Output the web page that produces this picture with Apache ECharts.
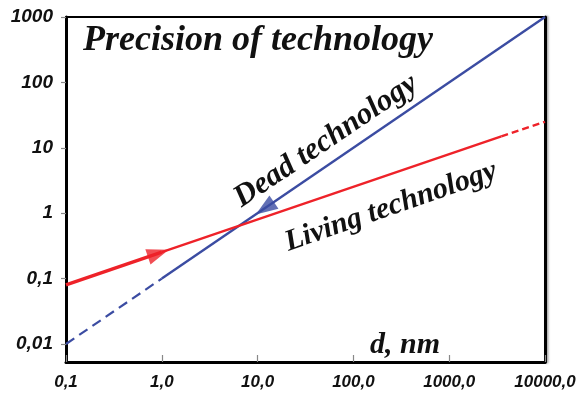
<!DOCTYPE html>
<html>
<head>
<meta charset="utf-8">
<script src="https://cdn.jsdelivr.net/npm/echarts@6/dist/echarts.min.js"></script>
<style>html,body{margin:0;padding:0;background:#fff}#c{width:584px;height:396px}</style>
</head>
<body>
<div id="c"></div>
<script>
// Tick labels
const xTickLabels = ['0,1', '1,0', '10,0', '100,0', '1000,0', '10000,0'];
const xTickValues = [0.1, 1, 10, 100, 1000, 10000];
const yTickLabels = ['0,01', '0,1', '1', '10', '100', '1000'];
const yTickValues = [0.01, 0.1, 1, 10, 100, 1000];

// Dead technology (blue): dashed part and solid part
const deadDashed = [[0.1, 0.01], [1, 0.1]];
const deadSolid = [[1, 0.1], [10000, 1000]];
// Living technology (red): thick start, solid, dashed extrapolation
const livingThick = [[0.1, 0.08], [1.0, 0.253]];
const livingSolid = [[1.0, 0.253], [3500, 15]];
const livingDashed = [[3500, 15], [10000, 25]];
// Arrow heads
const livingArrow = [[0.92, 0.243]];
const deadArrow = [[11.9, 1.19]];

const BLUE = '#3b4ca2';
const RED = '#ee2229';

function labelFor(values, labels) {
  return function (v) {
    for (let i = 0; i < values.length; i++) {
      if (Math.abs(Math.log10(v) - Math.log10(values[i])) < 1e-6) return labels[i];
    }
    return '';
  };
}

const chart = echarts.init(document.getElementById('c'), null, {renderer: 'canvas'});
const arrowPath = 'path://M0,0L20,8L0,16Z';
const labelFont = {fontFamily: 'Liberation Sans', fontWeight: 'bold', fontStyle: 'italic', color: '#111'};
const option = {
  animation: false,
  backgroundColor: '#fff',
  grid: {left: 66, right: 39, top: 17, bottom: 34, containLabel: false},
  xAxis: [{
    type: 'log', logBase: 10, min: 0.1, max: 10000,
    position: 'bottom',
    axisLine: {show: true, lineStyle: {color: '#000', width: 3}},
    axisTick: {show: true, inside: true, length: 7, lineStyle: {color: '#888', width: 1.2}},
    splitLine: {show: false},
    minorTick: {show: false},
    axisLabel: Object.assign({formatter: labelFor(xTickValues, xTickLabels), fontSize: 17, margin: 12}, labelFont)
  }, {
    type: 'log', logBase: 10, min: 0.1, max: 10000,
    position: 'top',
    axisLine: {show: true, lineStyle: {color: '#000', width: 2}},
    axisTick: {show: false},
    axisLabel: {show: false},
    splitLine: {show: false}
  }],
  yAxis: [{
    type: 'log', logBase: 10, min: 0.0053, max: 1000,
    position: 'left',
    axisLine: {show: true, lineStyle: {color: '#000', width: 3}},
    axisTick: {show: true, inside: false, length: 5, lineStyle: {color: '#888', width: 1.2}},
    splitLine: {show: false},
    axisLabel: Object.assign({formatter: labelFor(yTickValues, yTickLabels), fontSize: 19, margin: 13, showMinLabel: false}, labelFont)
  }, {
    type: 'log', logBase: 10, min: 0.0053, max: 1000,
    position: 'right',
    axisLine: {show: true, lineStyle: {color: '#000', width: 3, shadowColor: 'rgba(0,0,0,0.35)', shadowBlur: 2, shadowOffsetX: 1.5}},
    axisTick: {show: false},
    axisLabel: {show: false},
    splitLine: {show: false}
  }],
  series: [
    {type: 'line', data: deadDashed, symbol: 'none', lineStyle: {color: BLUE, width: 2.2, type: [10, 6]}},
    {type: 'line', data: deadSolid, symbol: 'none', lineStyle: {color: BLUE, width: 2.4}},
    {type: 'line', data: livingThick, symbol: 'none', lineStyle: {color: RED, width: 3.5}},
    {type: 'line', data: livingSolid, symbol: 'none', lineStyle: {color: RED, width: 2.4}},
    {type: 'line', data: livingDashed, symbol: 'none', lineStyle: {color: RED, width: 2.4, type: [7, 4]}},
    {type: 'scatter', data: livingArrow, symbol: arrowPath, symbolSize: [22, 16], symbolRotate: 18.8, itemStyle: {color: RED}, z: 5},
    {type: 'scatter', data: deadArrow, symbol: arrowPath, symbolSize: [22, 16], symbolRotate: 214.3, itemStyle: {color: BLUE}, z: 5}
  ],
  graphic: [
    {type: 'text', x: 83, y: 41, style: {text: 'Precision of technology', font: 'italic bold 36px "Liberation Serif"', fill: '#111', align: 'left', verticalAlign: 'middle'}},
    {type: 'text', x: 326, y: 141, rotation: 0.593, style: {text: 'Dead technology', font: 'italic bold 31px "Liberation Serif"', fill: '#111', align: 'center', verticalAlign: 'middle'}},
    {type: 'text', x: 391, y: 207, rotation: 0.335, style: {text: 'Living technology', font: 'italic bold 30px "Liberation Serif"', fill: '#111', align: 'center', verticalAlign: 'middle'}},
    {type: 'text', x: 405, y: 345, style: {text: 'd, nm', font: 'italic bold 30px "Liberation Serif"', fill: '#111', align: 'center', verticalAlign: 'middle'}}
  ]
};
chart.setOption(option);
</script>
</body>
</html>
